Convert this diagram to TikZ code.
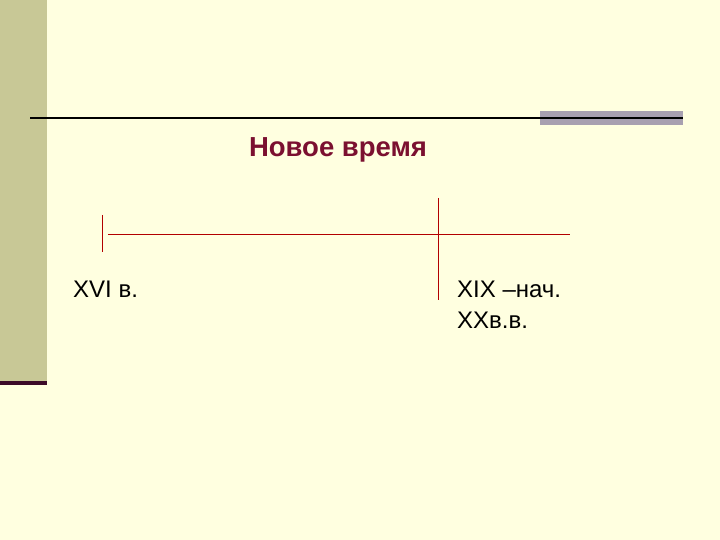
\documentclass[tikz,border=0pt]{standalone}
\usepackage{fontspec}
\setmainfont{Liberation Sans}
\begin{document}
\begin{tikzpicture}[x=1pt,y=-1pt,
  lbl/.style={anchor=west,inner sep=0pt,font=\fontsize{24}{28}\selectfont},
  tl/.style={draw=red!70!black,line width=0.8pt}]
\fill[fill={rgb,255:red,255;green,255;blue,224}] (0,0) rectangle (720,540);
\useasboundingbox (0,0) rectangle (720,540);
\fill[fill={rgb,255:red,200;green,200;blue,150}] (0,0) rectangle (47,381);
\fill[fill={rgb,255:red,60;green,10;blue,40}] (0,381) rectangle (47,385);
\fill[fill={rgb,255:red,168;green,160;blue,176}] (540,111) rectangle (683,125);
\draw[line width=1.5pt] (30,118) -- (683,118);
\node[inner sep=0pt,text={rgb,255:red,123;green,16;blue,48},font=\bfseries\fontsize{27.5}{32}\selectfont] (t) at (338,150) {Новое время};
\coordinate (h1) at (108,234); \coordinate (h2) at (570,234);
\coordinate (v1a) at (102,215); \coordinate (v1b) at (102,252);
\coordinate (v2a) at (438,198); \coordinate (v2b) at (438,300);
\draw[tl] (h1) -- (h2);
\draw[tl] (v1a) -- (v1b);
\draw[tl] (v2a) -- (v2b);
\node[lbl] (a) at (73,289) {XVI в.};
\node[lbl] (b) at (457,289) {XIX –нач.};
\node[lbl] (c) at (457,320) {XXв.в.};
\end{tikzpicture}
\end{document}
